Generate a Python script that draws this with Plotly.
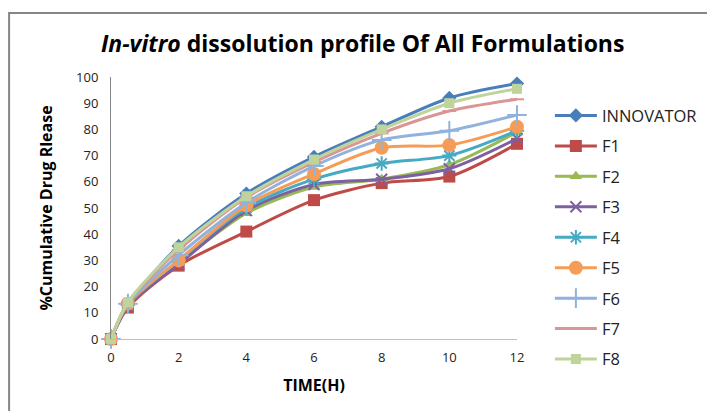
import plotly.graph_objects as go

time_h = [0, 0.5, 2, 4, 6, 8, 10, 12]
series_names = ["INNOVATOR", "F1", "F2", "F3", "F4", "F5", "F6", "F7", "F8"]
innovator = [0, 13, 35.5, 55.5, 69.5, 81, 92, 97.5]
f1 = [0, 12, 28, 41, 53, 59.5, 62, 74.5]
f2 = [0, 13, 29, 48, 58, 61, 66.5, 79]
f3 = [0, 13, 28.5, 49, 59, 61, 65, 76.5]
f4 = [0, 13, 30, 50, 61, 67, 70, 79.5]
f5 = [0, 13.5, 30, 51, 63, 73, 74, 81]
f6 = [0, 13.5, 32, 52, 66, 76, 79.5, 85.5]
f7 = [0, 14, 34, 54, 67.5, 78.5, 87, 91.5]
f8 = [0, 14, 35, 54.5, 68.5, 80, 90, 95.5]
all_values = [innovator, f1, f2, f3, f4, f5, f6, f7, f8]

colors = ["#4A7EBB", "#BE4B48", "#98B954", "#7D60A0", "#46AAC5", "#F59D56", "#90B2DC", "#DA9694", "#BED49A"]
symbols = ["diamond", "square", "triangle-up", "x-thin", "asterisk", "circle", "cross-thin", "line-ew", "square"]
msizes = [11, 12, 11, 11, 12, 14, 14, 10, 10]

fig = go.Figure()
for i, (name, vals) in enumerate(zip(series_names, all_values)):
    thin = symbols[i] in ("x-thin", "asterisk", "cross-thin", "line-ew")
    fig.add_trace(go.Scatter(
        x=time_h, y=vals, name=name, mode="lines+markers",
        line=dict(color=colors[i], width=3, shape="spline", smoothing=0.8),
        marker=dict(symbol=symbols[i], size=msizes[i], color=colors[i],
                    line=dict(color=colors[i], width=2 if thin else 0)),
        legendgroup=name, cliponaxis=False,
    ))

fig.update_layout(
    width=707, height=411,
    paper_bgcolor="white", plot_bgcolor="white",
    margin=dict(l=111, r=190, t=77, b=72, autoexpand=False),
    font=dict(family="Open Sans", size=13, color="#222"),
    title=dict(text="<b><i>In-vitro</i> dissolution profile Of All Formulations</b>",
               x=0.513, xanchor="center", y=0.893, yanchor="middle",
               font=dict(family="Open Sans", size=23, color="black")),
    xaxis=dict(range=[0, 12], tickvals=[0, 2, 4, 6, 8, 10, 12], showgrid=False,
               zeroline=False, showline=True, linecolor="#BFBFBF", linewidth=1,
               ticks="", tickfont=dict(size=13, color="#222"), ticklabelstandoff=6,
               title=dict(text="<b>TIME(H)</b>", font=dict(size=16, color="black"), standoff=15)),
    yaxis=dict(range=[0, 100], tickvals=list(range(0, 101, 10)), showgrid=False,
               zeroline=False, showline=True, linecolor="#868686", linewidth=1,
               ticks="", tickfont=dict(size=13, color="#222"), ticklabelstandoff=9,
               title=dict(text="<b>%Cumulative Drug Rlease</b>", font=dict(size=16, color="black"), standoff=19)),
    legend=dict(x=1.081, y=0.919, xanchor="left", yanchor="top", traceorder="grouped",
                tracegroupgap=6, itemwidth=42, maxheight=380,
                font=dict(size=16.5, color="#222"), bgcolor="rgba(0,0,0,0)"),
    shapes=[dict(type="path", xref="paper", yref="paper",
                 path="M -0.251,-0.5 L -0.251,1.244 L 1.48,1.244",
                 line=dict(color="#868686", width=2))],
)

fig.write_html("out.html", config={"displayModeBar": False},
               post_script="document.body.style.margin='0';")
